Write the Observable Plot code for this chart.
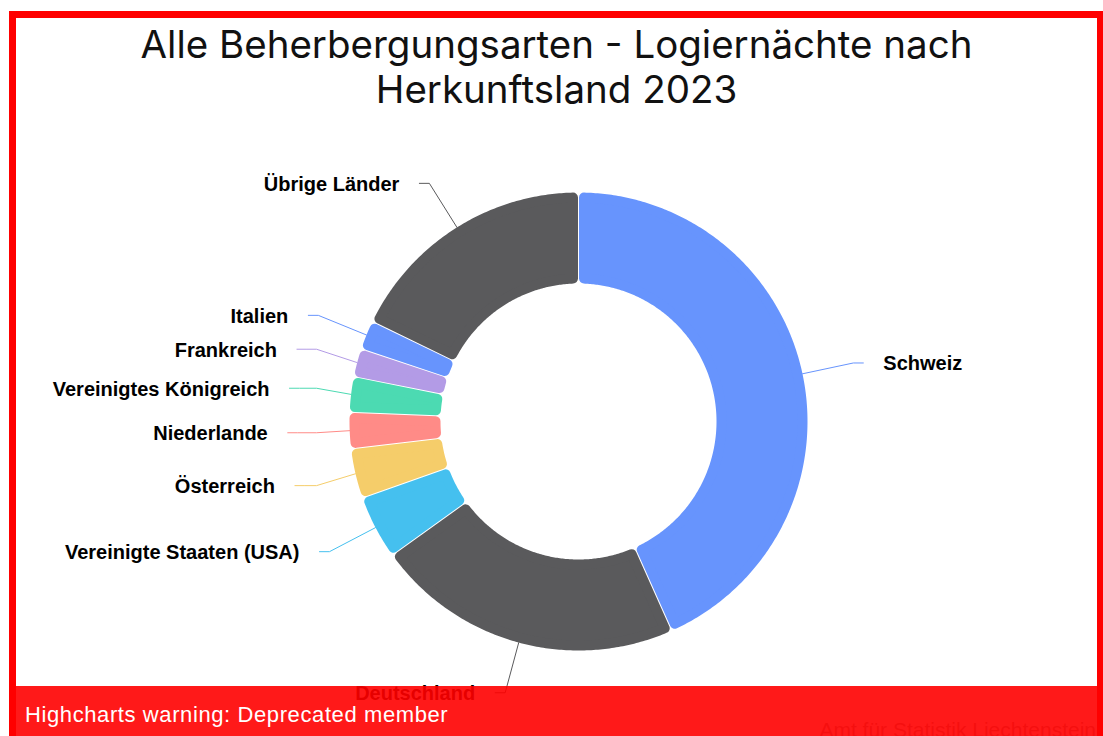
<!DOCTYPE html>
<html><head><meta charset="utf-8">
<script src="https://cdn.jsdelivr.net/npm/d3@7"></script>
<script src="https://cdn.jsdelivr.net/npm/@observablehq/plot@0.6"></script>
<style>
html,body{margin:0;padding:0;background:#fff;width:1103px;height:736px;overflow:hidden;}
#frame{position:absolute;left:9px;top:11px;width:1081px;height:760px;border:7px solid #ff0000;background:#fff;overflow:hidden;}
#title{position:absolute;left:0;top:0;width:1081px;text-align:center;font-family:Inter,Lato,sans-serif;font-size:38.5px;line-height:45px;padding-top:4px;color:#111;}
#chart{position:absolute;left:0;top:102px;}
#credit{position:absolute;right:1px;top:701px;font-family:"Liberation Sans",Arial,sans-serif;font-size:21px;line-height:21px;color:#999;white-space:nowrap;}
#warn{position:absolute;left:0;top:668px;width:1081px;height:92px;background:rgba(255,0,0,0.9);}
#warn span{position:absolute;left:9px;top:18px;font-family:"Liberation Sans",Arial,sans-serif;font-size:22px;letter-spacing:0.6px;line-height:21px;color:#fff;white-space:nowrap;}
</style>
</head><body>
<div id="frame">
  <div id="title">Alle Beherbergungsarten - Logiernächte nach<br>Herkunftsland 2023</div>
  <div id="chart"></div>
  <div id="credit">Amt für Statistik Liechtenstein</div>
  <div id="warn"><span>Highcharts warning: Deprecated member</span></div>
</div>
<script>
// Data (overnight stays by country of origin)
const categories = ["Schweiz","Deutschland","Vereinigte Staaten (USA)","Österreich","Niederlande","Vereinigtes Königreich","Frankreich","Italien","Übrige Länder"];
const values = [86600, 43500, 9000, 7000, 5100, 5000, 4000, 4100, 35600];
const colors = ["#6794fd","#5a5a5c","#45c0ef","#f5cd6a","#ff8b87","#4cdab2","#b39be6","#6794fd","#5a5a5c"];

const W = 1081, H = 640, CX = 562, CY = 301;
const R = 229, RI = 138, CR = 5, GAP = 0.5;
const RL = 281, CROOK = 262;

const data = categories.map((name, i) => ({name, value: values[i]}));
const arcs = d3.pie().sort(null).value(d => d.value)(data);

const pt = (a, r) => [r * Math.sin(a), -r * Math.cos(a)];

// Slice polygons (shrunk; round-joined stroke restores rounded corners)
const slicePts = [];
for (const s of arcs) {
  const name = s.data.name;
  const d = CR + GAP;
  const ro = R - CR, ri = RI + CR;
  const ao0 = s.startAngle + Math.asin(d / ro), ao1 = s.endAngle - Math.asin(d / ro);
  const ai0 = s.startAngle + Math.asin(d / ri), ai1 = s.endAngle - Math.asin(d / ri);
  const pts = [];
  const no = Math.max(2, Math.ceil((ao1 - ao0) / 0.01));
  for (let k = 0; k <= no; k++) pts.push(pt(ao0 + (ao1 - ao0) * k / no, ro));
  const ni = Math.max(2, Math.ceil((ai1 - ai0) / 0.01));
  for (let k = 0; k <= ni; k++) pts.push(pt(ai1 - (ai1 - ai0) * k / ni, ri));
  pts.push(pts[0]);
  for (const [x, y] of pts) slicePts.push({name, x, y});
}

// Labels and connectors
const labels = [], connPts = [];
for (const s of arcs) {
  const name = s.data.name;
  const mid = (s.startAngle + s.endAngle) / 2;
  const side = Math.sin(mid) >= 0 ? 1 : -1;
  const ly = -RL * Math.cos(mid);
  const cx = side * Math.sqrt(Math.max(0, RL * RL - ly * ly));
  const [ex, ey] = pt(mid, R);
  labels.push({name, x: cx + side * 30, y: ly, side});
  const path = [[cx + side * 10, ly], [cx, ly]];
  if (side < 0 && cx < -CROOK && -CROOK < ex) path.push([-CROOK, ly]);
  path.push([ex, ey]);
  for (const [x, y] of path) connPts.push({name, x, y});
}

const labelStyle = {x: "x", y: "y", text: "name", fill: "#000", dy: 1,
  fontFamily: "Liberation Sans, Arial, sans-serif", fontWeight: "bold", fontSize: 20};

const chart = Plot.plot({
  width: W, height: H, margin: 0,
  x: {domain: [-CX, W - CX], range: [0, W], axis: null},
  y: {domain: [-CY, H - CY], range: [0, H], axis: null},
  color: {domain: categories, range: colors},
  style: {background: "transparent", overflow: "visible"},
  marks: [
    Plot.line(connPts, {x: "x", y: "y", z: "name", stroke: "name", strokeWidth: 1}),
    Plot.line(slicePts, {x: "x", y: "y", z: "name", fill: "name", stroke: "name", strokeWidth: 2 * CR, strokeLinejoin: "round"}),
    Plot.text(labels.filter(d => d.side > 0), {...labelStyle, textAnchor: "start"}),
    Plot.text(labels.filter(d => d.side < 0), {...labelStyle, textAnchor: "end"})
  ]
});
document.getElementById("chart").appendChild(chart);
</script>
</body></html>
